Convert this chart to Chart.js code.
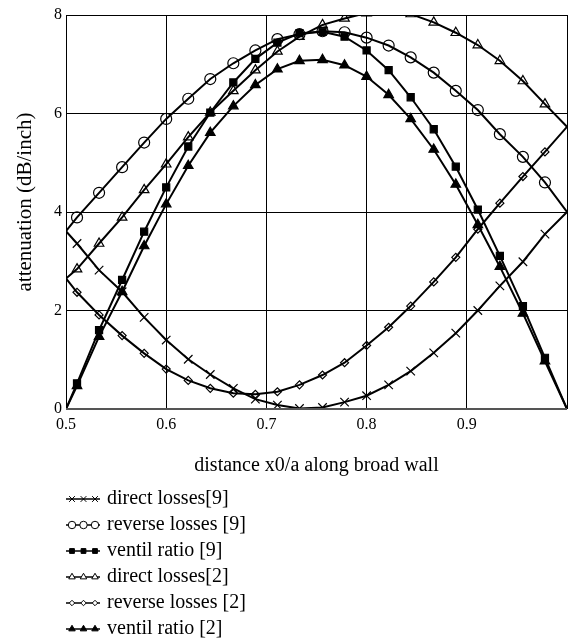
<!DOCTYPE html>
<html>
<head>
<meta charset="utf-8">
<script src="https://cdn.jsdelivr.net/npm/chart.js@4/dist/chart.umd.min.js"></script>
<style>
html,body{margin:0;padding:0;background:#fff;}
#wrap{position:relative;width:568px;height:638px;}
</style>
</head>
<body>
<div id="wrap"><canvas id="c" width="568" height="638"></canvas></div>
<script>
// x positions (x0/a)
const xValues = [0.5, 0.511, 0.533, 0.556, 0.578, 0.6, 0.622, 0.644, 0.667, 0.689, 0.711, 0.733, 0.756, 0.778, 0.8, 0.822, 0.844, 0.867, 0.889, 0.911, 0.933, 0.956, 0.978, 1.0];
// series values (dB/inch)
const directLosses9  = [3.61, 3.36, 2.82, 2.38, 1.86, 1.40, 1.01, 0.70, 0.42, 0.20, 0.08, 0.01, 0.03, 0.14, 0.27, 0.49, 0.77, 1.14, 1.54, 2.00, 2.50, 2.99, 3.55, 4.00];
const reverseLosses9 = [3.61, 3.89, 4.39, 4.91, 5.41, 5.89, 6.30, 6.70, 7.02, 7.28, 7.51, 7.61, 7.67, 7.65, 7.54, 7.38, 7.14, 6.83, 6.46, 6.07, 5.58, 5.12, 4.60, 4.00];
const ventilRatio9   = [0, 0.52, 1.60, 2.62, 3.60, 4.50, 5.33, 6.02, 6.63, 7.11, 7.44, 7.63, 7.66, 7.56, 7.28, 6.88, 6.33, 5.68, 4.92, 4.05, 3.11, 2.09, 1.04, 0];
const directLosses2  = [2.65, 2.84, 3.36, 3.89, 4.45, 4.97, 5.52, 6.02, 6.46, 6.88, 7.26, 7.56, 7.80, 7.93, 8.04, 8.06, 8.02, 7.85, 7.64, 7.39, 7.07, 6.66, 6.19, 5.73];
const reverseLosses2 = [2.65, 2.37, 1.91, 1.49, 1.13, 0.81, 0.58, 0.42, 0.32, 0.30, 0.35, 0.49, 0.69, 0.94, 1.29, 1.66, 2.09, 2.58, 3.08, 3.65, 4.18, 4.72, 5.22, 5.73];
const ventilRatio2   = [0, 0.47, 1.47, 2.38, 3.31, 4.16, 4.94, 5.61, 6.15, 6.58, 6.90, 7.07, 7.09, 6.98, 6.75, 6.38, 5.89, 5.27, 4.56, 3.74, 2.89, 1.94, 0.97, 0];
const seriesLabels = ['direct losses[9]', 'reverse losses [9]', 'ventil ratio [9]', 'direct losses[2]', 'reverse losses [2]', 'ventil ratio [2]'];
const xTickValues = [0.5, 0.6, 0.7, 0.8, 0.9, 1.0];
const xTickLabels = ['0.5', '0.6', '0.7', '0.8', '0.9', ''];
const yTickValues = [0, 2, 4, 6, 8];
const xTitle = 'distance x0/a along broad wall';
const yTitle = 'attenuation (dB/inch)';

const FONT = '"Liberation Serif", "Times New Roman", serif';
const styles = [
  {pointStyle: 'crossRot', r: 6, fill: false},
  {pointStyle: 'circle', r: 5.5, fill: false},
  {pointStyle: 'rect', r: 5, fill: true},
  {pointStyle: 'triangle', r: 5.5, fill: false},
  {pointStyle: 'rectRot', r: 4, fill: false},
  {pointStyle: 'triangle', r: 5.5, fill: true}
];
const allSeries = [directLosses9, reverseLosses9, ventilRatio9, directLosses2, reverseLosses2, ventilRatio2];

const datasets = allSeries.map((vals, i) => ({
  label: seriesLabels[i],
  data: vals.map((v, j) => ({x: xValues[j], y: v})),
  borderColor: '#000',
  borderWidth: 2,
  pointStyle: styles[i].pointStyle,
  pointRadius: ctx => (ctx.dataIndex === 0 || ctx.dataIndex === vals.length - 1) ? 0 : styles[i].r,
  pointBorderColor: '#000',
  pointBackgroundColor: styles[i].fill ? '#000' : 'rgba(0,0,0,0)',
  pointBorderWidth: 1.2,
  pointHoverRadius: 0,
  tension: 0,
  fill: false
}));

const overlay = {
  id: 'overlay',
  afterDraw(chart) {
    const c = chart.ctx;
    const a = chart.chartArea;
    c.save();
    // frame
    c.strokeStyle = '#000';
    c.lineWidth = 1;
    c.beginPath();
    c.moveTo(a.left, a.top + 0.5); c.lineTo(a.right, a.top + 0.5);
    c.stroke();
    c.strokeStyle = '#555';
    c.lineWidth = 2;
    c.beginPath();
    c.moveTo(a.left, a.bottom); c.lineTo(a.right, a.bottom);
    c.stroke();
    // titles
    c.fillStyle = '#000';
    c.font = '20px ' + FONT;
    c.textAlign = 'center';
    c.textBaseline = 'alphabetic';
    c.fillText(xTitle, (a.left + a.right) / 2, 471);
    c.save();
    c.font = '21px ' + FONT;
    c.translate(25, 202);
    c.rotate(-Math.PI / 2);
    c.textBaseline = 'middle';
    c.fillText(yTitle, 0, 0);
    c.restore();
    // legend
    c.font = '20px ' + FONT;
    c.textAlign = 'left';
    c.textBaseline = 'middle';
    for (let i = 0; i < seriesLabels.length; i++) {
      const y = 499 + i * 26;
      c.strokeStyle = '#000';
      c.lineWidth = 1.5;
      c.beginPath(); c.moveTo(66, y); c.lineTo(100, y); c.stroke();
      [72, 83.5, 95].forEach(px => {
        c.fillStyle = styles[i].fill ? '#000' : '#fff';
        c.strokeStyle = '#000';
        c.lineWidth = 1;
        Chart.helpers.drawPoint(c, {pointStyle: styles[i].pointStyle, radius: styles[i].r * 0.68, borderWidth: 1, rotation: 0}, px, y);
      });
      c.fillStyle = '#000';
      c.fillText(seriesLabels[i], 107, y);
    }
    c.restore();
  }
};

new Chart(document.getElementById('c'), {
  type: 'line',
  data: {datasets},
  options: {
    responsive: false,
    animation: false,
    events: [],
    layout: {padding: {left: 0, right: 1, top: 15, bottom: 0}},
    plugins: {legend: {display: false}, tooltip: {enabled: false}},
    scales: {
      x: {
        type: 'linear', min: 0.5, max: 1.0,
        afterFit(s) { s.height = 229; s.paddingLeft = 0; s.paddingRight = 0; },
        afterBuildTicks(s) { s.ticks = xTickValues.map(v => ({value: v})); },
        grid: {color: '#000', lineWidth: 1, drawTicks: false},
        border: {display: false},
        ticks: {
          padding: 6, color: '#000', font: {family: FONT, size: 16},
          maxRotation: 0, autoSkip: false,
          callback: (v, i) => xTickLabels[i]
        }
      },
      y: {
        min: 0, max: 8,
        afterFit(s) { s.width = 66; s.paddingTop = 0; s.paddingBottom = 0; },
        afterBuildTicks(s) { s.ticks = yTickValues.map(v => ({value: v})); },
        grid: {color: '#000', lineWidth: 1, drawTicks: false},
        border: {display: false},
        ticks: {
          padding: 4, color: '#000', font: {family: FONT, size: 16},
          callback: v => String(v)
        }
      }
    }
  },
  plugins: [overlay]
});
</script>
</body>
</html>
